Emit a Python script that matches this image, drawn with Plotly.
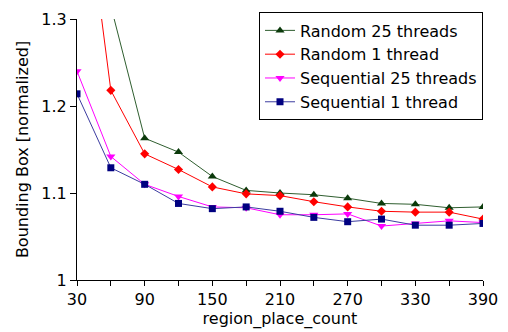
import plotly.graph_objects as go

region_place_count = [30, 60, 90, 120, 150, 180, 210, 240, 270, 300, 330, 360, 390]

random_25 = [1.45, 1.315, 1.163, 1.147, 1.119, 1.103, 1.100, 1.098, 1.094, 1.088, 1.087, 1.083, 1.084]
random_1 = [1.52, 1.218, 1.145, 1.127, 1.107, 1.099, 1.097, 1.090, 1.084, 1.079, 1.078, 1.078, 1.070]
sequential_25 = [1.240, 1.142, 1.110, 1.096, 1.084, 1.083, 1.075, 1.075, 1.076, 1.062, 1.065, 1.068, 1.066]
sequential_1 = [1.214, 1.129, 1.110, 1.088, 1.082, 1.084, 1.079, 1.072, 1.067, 1.070, 1.063, 1.063, 1.065]

y_ticks = [1.0, 1.1, 1.2, 1.3]
y_tick_labels = ["1", "1.1", "1.2", "1.3"]
x_ticks = [30, 90, 150, 210, 270, 330, 390]

FONT = "DejaVu Sans"

series = [
    ("Random 25 threads", random_25, "#2f5e2f", "#0b3a0b", "triangle-up", 8),
    ("Random 1 thread", random_1, "#ff0000", "#ff0000", "diamond", 7),
    ("Sequential 25 threads", sequential_25, "#ff00ff", "#ff00ff", "triangle-down", 8),
    ("Sequential 1 thread", sequential_1, "#3c3ca0", "#000080", "square", 7),
]

fig = go.Figure()
for name, vals, line_color, marker_color, symbol, size in series:
    fig.add_trace(go.Scatter(
        x=region_place_count, y=vals, name=name, mode="lines+markers",
        line=dict(color=line_color, width=1),
        marker=dict(color=marker_color, symbol=symbol, size=size, line=dict(width=0)),
    ))

fig.update_layout(
    width=508, height=332,
    margin=dict(l=77, r=24, t=10, b=52),
    paper_bgcolor="white", plot_bgcolor="white",
    font=dict(family=FONT, size=16, color="black"),
    showlegend=True,
    legend=dict(
        x=1.0, y=1.025, xanchor="right", yanchor="top",
        bgcolor="white", bordercolor="black", borderwidth=1,
        font=dict(family=FONT, size=16), tracegroupgap=0,
        itemwidth=30,
    ),
    xaxis=dict(
        range=[30, 390], tickvals=x_ticks,
        showline=True, linecolor="black", linewidth=1, mirror=False,
        ticks="outside", ticklen=5, tickcolor="black", showgrid=False, zeroline=False,
        minor=dict(tickvals=[60, 120, 180, 240, 300, 360], ticks="outside", ticklen=5, tickcolor="black", showgrid=False),
        title=dict(text="region_place_count", standoff=0, font=dict(size=16)),
    ),
    yaxis=dict(
        range=[1.0, 1.3], tickvals=y_ticks, ticktext=y_tick_labels,
        showline=True, linecolor="black", linewidth=1, mirror=False,
        ticks="outside", ticklen=6, tickcolor="black", showgrid=False, zeroline=False,
        title=dict(text="Bounding Box [normalized]", standoff=8, font=dict(size=16)),
    ),
)

fig.write_html("out.html")
